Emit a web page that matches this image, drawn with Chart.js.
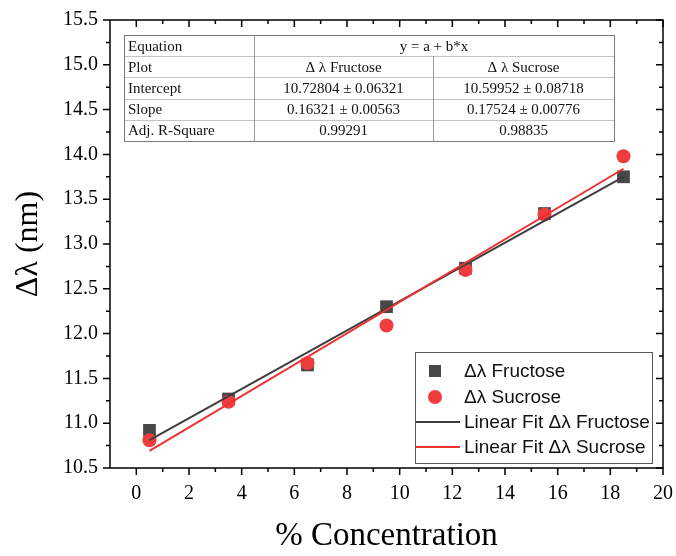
<!DOCTYPE html>
<html>
<head>
<meta charset="utf-8">
<script src="https://cdn.jsdelivr.net/npm/chart.js@4.4.0/dist/chart.umd.min.js"></script>
<style>
  html, body { margin: 0; padding: 0; background: #fff; }
</style>
</head>
<body>
<canvas id="myChart" width="676" height="556"></canvas>
<script>
// measured points (x = % concentration)
const concentration = [0.5, 3.5, 6.5, 9.5, 12.5, 15.5, 18.5];
const fructose = [10.92, 11.27, 11.65, 12.30, 12.73, 13.34, 13.75];
const sucrose = [10.81, 11.24, 11.67, 12.09, 12.71, 13.33, 13.98];

// fit lines, read at both ends
const fitX = [0.5, 18.5];
const fitFructose = [10.81, 13.75];
const fitSucrose = [10.69, 13.84];

const xTicks = [0, 2, 4, 6, 8, 10, 12, 14, 16, 18, 20];
const yTicks = [10.5, 11.0, 11.5, 12.0, 12.5, 13.0, 13.5, 14.0, 14.5, 15.0, 15.5];

// fit results table
const rowNames = ["Equation", "Plot", "Intercept", "Slope", "Adj. R-Square"];
const equation = "y = a + b*x";
const plotNames = ["Δ λ Fructose", "Δ λ Sucrose"];
const intercepts = ["10.72804 ± 0.06321", "10.59952 ± 0.08718"];
const slopes = ["0.16321 ± 0.00563", "0.17524 ± 0.00776"];
const adjR2 = ["0.99291", "0.98835"];

const legendLabels = ["Δλ Fructose", "Δλ Sucrose", "Linear Fit Δλ Fructose", "Linear Fit Δλ Sucrose"];

const serif = "'Liberation Serif', 'Times New Roman', serif";
const sans = "'Liberation Sans', Arial, sans-serif";
const gray = '#474747';
const red = '#ef3c3c';
const grayLine = '#3e3e3e';
const redLine = '#ee3030';

function toPoints(xs, ys) {
  return xs.map((v, i) => ({x: v, y: ys[i]}));
}

// frame + ticks like origin (left/bottom out, top/right in)
const frameTicks = {
  id: 'frameTicks',
  afterDatasetsDraw(chart) {
    const {ctx, chartArea: a, scales: {x, y}} = chart;
    ctx.save();
    ctx.strokeStyle = '#000';
    ctx.lineWidth = 1.5;
    ctx.beginPath();
    const xs = x.ticks.map(t => x.getPixelForValue(t.value));
    xs.forEach((px, i) => {
      ctx.moveTo(px, a.bottom); ctx.lineTo(px, a.bottom + 7);
      ctx.moveTo(px, a.top); ctx.lineTo(px, a.top + 7);
      if (i < xs.length - 1) {
        const m = (px + xs[i + 1]) / 2;
        ctx.moveTo(m, a.bottom); ctx.lineTo(m, a.bottom + 4);
        ctx.moveTo(m, a.top); ctx.lineTo(m, a.top + 4);
      }
    });
    const ys = y.ticks.map(t => y.getPixelForValue(t.value));
    ys.forEach((py, i) => {
      ctx.moveTo(a.left, py); ctx.lineTo(a.left - 7, py);
      ctx.moveTo(a.right, py); ctx.lineTo(a.right - 7, py);
      if (i < ys.length - 1) {
        const m = (py + ys[i + 1]) / 2;
        ctx.moveTo(a.left, m); ctx.lineTo(a.left - 4, m);
        ctx.moveTo(a.right, m); ctx.lineTo(a.right - 4, m);
      }
    });
    ctx.stroke();
    ctx.strokeRect(a.left, a.top, a.right - a.left, a.bottom - a.top);
    ctx.restore();
  }
};

// legend box and stats table drawn on top
const overlays = {
  id: 'overlays',
  afterDraw(chart) {
    const ctx = chart.ctx;
    ctx.save();

    // table
    const tl = 124, tr = 614, c1 = 254, c2 = 433, tt = 35, rh = 21.2;
    const tb = tt + rh * rowNames.length;
    ctx.fillStyle = '#fff';
    ctx.fillRect(tl, tt, tr - tl, tb - tt);
    ctx.lineWidth = 1;
    ctx.strokeStyle = '#c4c4c4';
    ctx.beginPath();
    for (let i = 1; i < rowNames.length; i++) {
      ctx.moveTo(tl, Math.round(tt + rh * i) + 0.5);
      ctx.lineTo(tr, Math.round(tt + rh * i) + 0.5);
    }
    ctx.stroke();
    ctx.strokeStyle = '#9a9a9a';
    ctx.beginPath();
    ctx.moveTo(c1 + 0.5, tt); ctx.lineTo(c1 + 0.5, tb);
    ctx.moveTo(c2 + 0.5, tt + rh); ctx.lineTo(c2 + 0.5, tb);
    ctx.stroke();
    ctx.strokeStyle = '#7a7a7a';
    ctx.strokeRect(tl + 0.5, tt + 0.5, tr - tl, tb - tt);

    ctx.fillStyle = '#111';
    ctx.font = '15px ' + serif;
    ctx.textBaseline = 'middle';
    rowNames.forEach((name, i) => {
      const cy = tt + rh * i + rh / 2 + 1;
      ctx.textAlign = 'left';
      ctx.fillText(name, tl + 4, cy);
      ctx.textAlign = 'center';
      if (i === 0) {
        ctx.fillText(equation, (c1 + tr) / 2, cy);
        return;
      }
      const cells = [plotNames, intercepts, slopes, adjR2][i - 1];
      ctx.fillText(cells[0], (c1 + c2) / 2, cy);
      ctx.fillText(cells[1], (c2 + tr) / 2, cy);
    });

    // legend
    const lx = 415, ly = 352, lw = 237, lh = 111;
    ctx.fillStyle = '#fff';
    ctx.fillRect(lx, ly, lw, lh);
    ctx.strokeStyle = '#555';
    ctx.lineWidth = 1;
    ctx.strokeRect(lx + 0.5, ly + 0.5, lw, lh);
    const rows = [371, 397, 422, 447];
    ctx.fillStyle = gray;
    ctx.fillRect(435 - 6, rows[0] - 6, 12, 12);
    ctx.fillStyle = red;
    ctx.beginPath();
    ctx.arc(435, rows[1], 7, 0, Math.PI * 2);
    ctx.fill();
    ctx.lineWidth = 2;
    ctx.strokeStyle = grayLine;
    ctx.beginPath(); ctx.moveTo(416, rows[2]); ctx.lineTo(460, rows[2]); ctx.stroke();
    ctx.strokeStyle = redLine;
    ctx.beginPath(); ctx.moveTo(416, rows[3]); ctx.lineTo(460, rows[3]); ctx.stroke();
    ctx.fillStyle = '#111';
    ctx.font = '19px ' + sans;
    ctx.textAlign = 'left';
    legendLabels.forEach((t, i) => ctx.fillText(t, 464, rows[i] + 1));
    ctx.restore();
  }
};

const ctx = document.getElementById("myChart").getContext("2d");
const myChart = new Chart(ctx, {
  type: 'scatter',
  data: {
    datasets: [
      {
        label: legendLabels[3],
        data: toPoints(fitX, fitSucrose),
        showLine: true,
        borderColor: redLine,
        borderWidth: 2,
        pointRadius: 0,
        order: 0
      },
      {
        label: legendLabels[2],
        data: toPoints(fitX, fitFructose),
        showLine: true,
        borderColor: grayLine,
        borderWidth: 2,
        pointRadius: 0,
        order: 1
      },
      {
        label: legendLabels[1],
        data: toPoints(concentration, sucrose),
        pointStyle: 'circle',
        pointRadius: 7,
        backgroundColor: red,
        borderWidth: 0,
        order: 2
      },
      {
        label: legendLabels[0],
        data: toPoints(concentration, fructose),
        pointStyle: 'rect',
        pointRadius: 9,
        backgroundColor: gray,
        borderWidth: 0,
        order: 3
      }
    ]
  },
  options: {
    responsive: false,
    animation: false,
    layout: {padding: {left: 0, right: 13, top: 20, bottom: 0}},
    plugins: {
      legend: {display: false},
      tooltip: {enabled: false}
    },
    scales: {
      x: {
        type: 'linear',
        min: -1,
        max: 20,
        afterBuildTicks: s => { s.ticks = xTicks.map(v => ({value: v})); },
        afterFit: s => { s.height = 88; s.paddingLeft = 0; s.paddingRight = 0; },
        grid: {display: false, drawTicks: false},
        border: {display: false},
        ticks: {
          color: '#000',
          font: {family: serif, size: 20},
          padding: 14,
          maxRotation: 0,
          autoSkip: false
        },
        title: {
          display: true,
          text: '% Concentration',
          color: '#000',
          font: {family: serif, size: 33},
          padding: {top: 0, bottom: 0}
        }
      },
      y: {
        type: 'linear',
        min: 10.5,
        max: 15.5,
        afterBuildTicks: s => { s.ticks = yTicks.map(v => ({value: v})); },
        afterFit: s => { s.width = 110; s.paddingTop = 0; s.paddingBottom = 0; },
        grid: {display: false, drawTicks: false},
        border: {display: false},
        ticks: {
          color: '#000',
          font: {family: serif, size: 20},
          padding: 12,
          autoSkip: false,
          callback: v => v.toFixed(1)
        },
        title: {
          display: true,
          text: 'Δλ (nm)',
          color: '#000',
          font: {family: serif, size: 32},
          padding: {top: 9, bottom: 0}
        }
      }
    }
  },
  plugins: [frameTicks, overlays]
});
</script>
</body>
</html>
